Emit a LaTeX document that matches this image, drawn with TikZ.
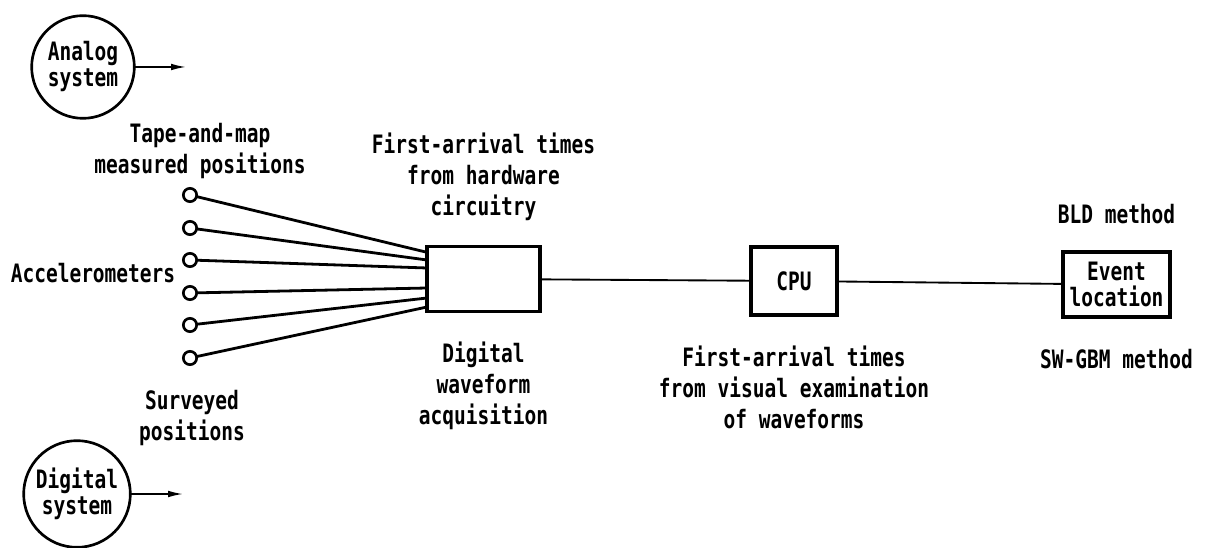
\documentclass[tikz,border=0pt]{standalone}
\usepackage{fontspec}
\newfontfamily\plotter{DejaVu Sans Mono}[FakeStretch=0.77]
\usepackage{tikz}
\usetikzlibrary{positioning}
\usetikzlibrary{arrows.meta}

\begin{document}
\begin{tikzpicture}[x=0.75pt,y=-0.75pt,
    every node/.style={inner sep=1pt,outer sep=0pt,align=center,font=\plotter\bfseries\fontsize{19}{23.25}\selectfont},
    sys/.style={circle,draw,line width=2pt,inner sep=0pt,minimum size=77pt,font=\plotter\bfseries\fontsize{19}{19.5}\selectfont},
    sensor/.style={circle,draw,line width=2pt,inner sep=0pt,minimum size=10pt},
    blockbox/.style={rectangle,draw,line width=2.6pt,inner sep=0pt}]
    \useasboundingbox (0,0) rectangle (1205,548);
	\node[sys] (analog) at (83,67) {Analog\\system};
	\node[sys,minimum size=80pt] (digital) at (77,494) {Digital\\system};
	\coordinate (analogout) at (187,67);
	\coordinate (digitalout) at (184,494);
	\foreach \i/\y in {1/195,2/228,3/260,4/293,5/325,6/358}
	    \node[sensor] (s\i) at (190,\y) {};
	\node (tape) at (200,151) {Tape-and-map\\measured positions};
	\node (accel) at (93,273) {Accelerometers};
	\node (surv) at (192,418) {Surveyed\\positions};
	\node[blockbox,minimum width=84.75pt,minimum height=48.75pt] (daq) at (483.5,279) {};
	\node[blockbox,minimum width=64.5pt,minimum height=51pt] (cpu) at (794,281) {CPU};
	\node[blockbox,minimum width=80.25pt,minimum height=48.75pt,font=\plotter\bfseries\fontsize{19}{19.5}\selectfont] (loc) at (1116.5,284.5) {Event\\location};
	\node (hw) [above=18pt of daq] {First-arrival times\\from hardware\\circuitry};
	\node (acq) [below=22pt of daq] {Digital\\waveform\\acquisition};
	\node (vis) [below=22pt of cpu] {First-arrival times\\from visual examination\\of waveforms};
	\node (bld) [above=20pt of loc] {BLD method};
	\node (gbm) [below=23pt of loc] {SW-GBM method};
    \path[-{Latex[length=12pt,width=5pt]},line width=1.6pt]
        (analog) edge (analogout)
        (digital) edge (digitalout);
	\foreach \i/\dy in {1/20pt,2/14.25pt,3/8.25pt,4/-6.75pt,5/-14.25pt,6/-21pt}
	    \draw[line width=2.1pt] (s\i) -- ([yshift=\dy]daq.west);
    \path[line width=1.4pt]
        (daq) edge (cpu)
        (cpu) edge (loc);
\end{tikzpicture}
\end{document}
